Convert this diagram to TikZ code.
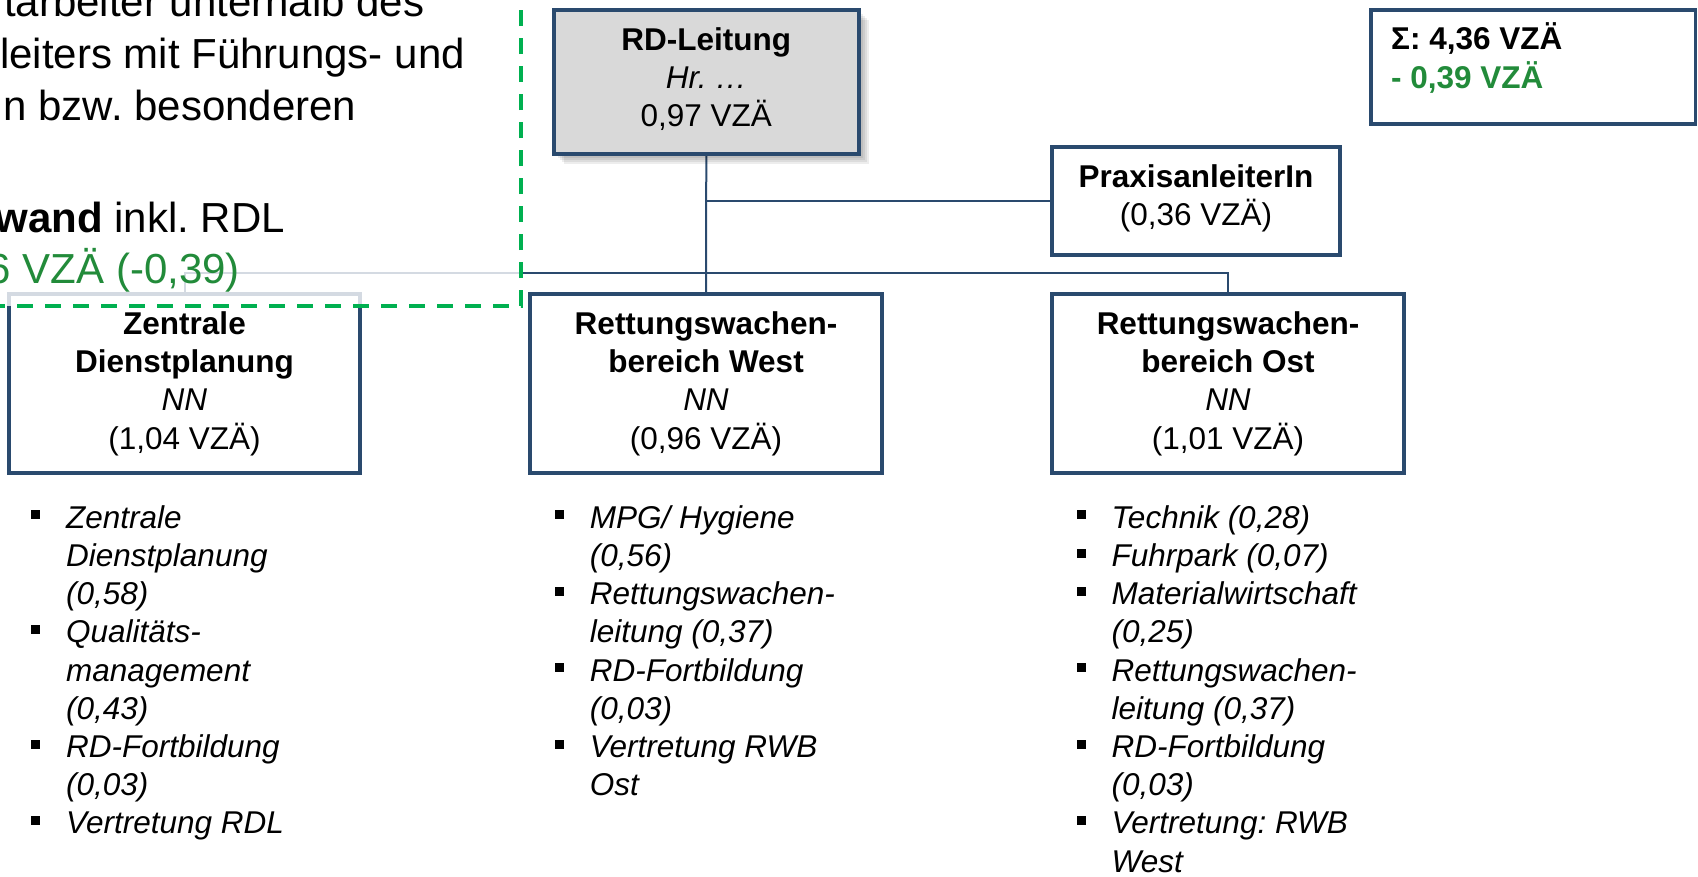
\documentclass[tikz,border=0pt]{standalone}
\usepackage{fontspec}
\setmainfont{Liberation Sans}
\usetikzlibrary{shadows}
\frenchspacing
\definecolor{boxblue}{HTML}{2A4A6E}
\definecolor{txtgreen}{HTML}{228B3A}
\definecolor{dashgreen}{HTML}{00B050}
\definecolor{rdgray}{HTML}{D9D9D9}
\newcommand\boxfont{\fontsize{31.5}{38.3}\selectfont\frenchspacing}
\newcommand\bigfont{\fontsize{42}{52}\selectfont\frenchspacing}
\newcommand\blt{\makebox[0pt][r]{\raisebox{9pt}{\rule{9pt}{9pt}}\hspace{26pt}}}
\newcommand\lowerpad[1]{\rule[-#1]{0pt}{#1}}
\pgfdeclarelayer{bg}
\pgfsetlayers{bg,main}
\begin{document}
\begin{tikzpicture}[x=1pt,y=-1pt,
  orgbox/.style={draw=boxblue, line width=3.5pt, rectangle, inner sep=0pt, align=center, font=\boxfont, text=black, fill=white},
  conn/.style={draw=boxblue, line width=2pt},
  listline/.style={anchor=base west, inner sep=0pt, font=\boxfont\itshape},
  bigline/.style={anchor=base east, inner sep=0pt, font=\bigfont},
  sumline/.style={anchor=base west, inner sep=0pt, font=\boxfont\bfseries},
  softshadow/.style={drop shadow={shadow xshift=#1, shadow yshift=-#1, fill=black, opacity=0.07}},
]
\useasboundingbox (0,0) rectangle (1698,876);
\clip (0,0) rectangle (1698,876);

% boxes
\node[orgbox, fill=rdgray, minimum width=305, minimum height=144,
      softshadow=2pt, softshadow=4pt, softshadow=6pt, softshadow=8pt, softshadow=10pt] (rd) at (706.3,82)
  {\textbf{RD-Leitung}\\\textit{Hr. …}\\0,97 VZÄ\lowerpad{10pt}};
\node[orgbox, minimum width=288, minimum height=108] (praxis) at (1196,201)
  {\textbf{PraxisanleiterIn}\\(0,36 VZÄ)\lowerpad{12pt}};
\node[orgbox, minimum width=351, minimum height=179] (zent) at (184.5,383.5)
  {\textbf{Zentrale}\\\textbf{Dienstplanung}\\\textit{NN}\\(1,04 VZÄ)};
\node[orgbox, minimum width=352, minimum height=179] (west) at (706,383.5)
  {\textbf{Rettungswachen-}\\\textbf{bereich West}\\\textit{NN}\\(0,96 VZÄ)};
\node[orgbox, minimum width=352, minimum height=179] (ost) at (1228,383.5)
  {\textbf{Rettungswachen-}\\\textbf{bereich Ost}\\\textit{NN}\\(1,01 VZÄ)};

% sum box
\node[draw=boxblue, line width=3.5pt, minimum width=324.5, minimum height=114, inner sep=0pt] (sigma) at (1533.25,67) {};
\node[sumline] (s1) at (1391,49.8) {Σ: 4,36 VZÄ};
\node[sumline, text=txtgreen] (s2) at (1391,88.2) {- 0,39 VZÄ};

% connectors
\coordinate (br) at (706,273);
\begin{pgfonlayer}{bg}
\draw[conn] (rd.south) -- (west.north);
\draw[conn] (rd.south |- praxis.west) -- (praxis.west);
\draw[conn] (zent.north) |- (br) -| (ost.north);
\end{pgfonlayer}

% note box (overlay) with dashed border
\node[draw=dashgreen, line width=3.5pt, dash pattern=on 16pt off 12pt, fill=white, fill opacity=0.8,
      minimum width=560, minimum height=346, inner sep=0pt] (note) at (241,133) {};
\node[bigline] (t1) at (424.6,16.7) {tarbeiter unterhalb des};
\node[bigline] (t2) at (465,68.3) {leiters mit Führungs- und};
\node[bigline] (t3) at (356.4,120) {n bzw. besonderen};
\node[bigline] (t4) at (285,232.3) {\textbf{wand} inkl. RDL};
\node[bigline, text=txtgreen] (t5) at (240,283.3) {6 VZÄ (-0,39)};

% list Zentrale
\node[listline] (z0) at (66,528.3) {\blt Zentrale};
\node[listline] (z1) at (66,566.5) {Dienstplanung};
\node[listline] (z2) at (66,604.7) {(0,58)};
\node[listline] (z3) at (66,642.9) {\blt Qualitäts-};
\node[listline] (z4) at (66,681.1) {management};
\node[listline] (z5) at (66,719.3) {(0,43)};
\node[listline] (z6) at (66,757.5) {\blt RD-Fortbildung};
\node[listline] (z7) at (66,795.7) {(0,03)};
\node[listline] (z8) at (66,833.9) {\blt Vertretung RDL};

% list West
\node[listline] (w0) at (589.6,528.3) {\blt MPG/ Hygiene};
\node[listline] (w1) at (589.6,566.5) {(0,56)};
\node[listline] (w2) at (589.6,604.7) {\blt Rettungswachen-};
\node[listline] (w3) at (589.6,642.9) {leitung (0,37)};
\node[listline] (w4) at (589.6,681.1) {\blt RD-Fortbildung};
\node[listline] (w5) at (589.6,719.3) {(0,03)};
\node[listline] (w6) at (589.6,757.5) {\blt Vertretung RWB};
\node[listline] (w7) at (589.6,795.7) {Ost};

% list Ost
\node[listline] (o0) at (1111.4,528.3) {\blt Technik (0,28)};
\node[listline] (o1) at (1111.4,566.5) {\blt Fuhrpark (0,07)};
\node[listline] (o2) at (1111.4,604.7) {\blt Materialwirtschaft};
\node[listline] (o3) at (1111.4,642.9) {(0,25)};
\node[listline] (o4) at (1111.4,681.1) {\blt Rettungswachen-};
\node[listline] (o5) at (1111.4,719.3) {leitung (0,37)};
\node[listline] (o6) at (1111.4,757.5) {\blt RD-Fortbildung};
\node[listline] (o7) at (1111.4,795.7) {(0,03)};
\node[listline] (o8) at (1111.4,833.9) {\blt Vertretung: RWB};
\node[listline] (o9) at (1111.4,872.1) {West};
\end{tikzpicture}
\end{document}
